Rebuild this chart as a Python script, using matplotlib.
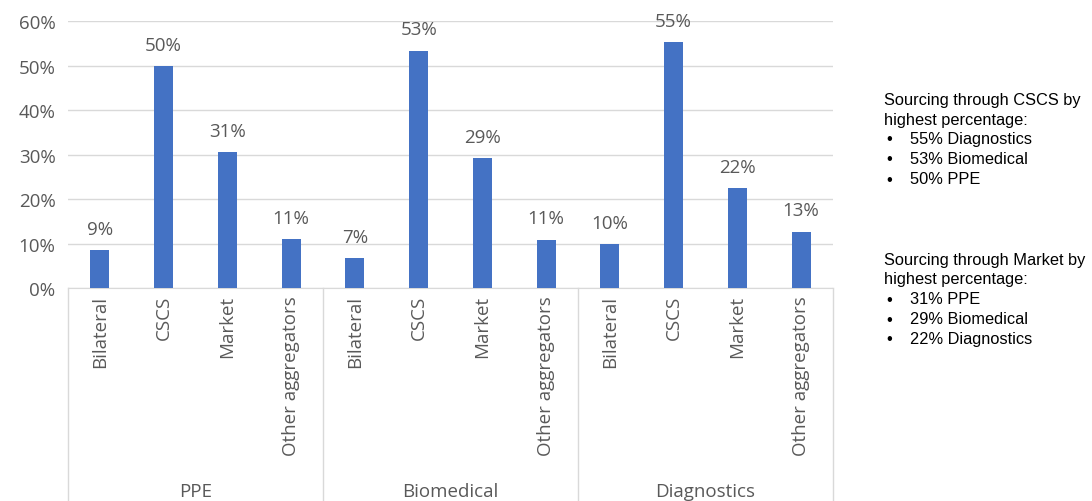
import matplotlib
matplotlib.use("Agg")
import matplotlib.pyplot as plt
import numpy as np

groups = ["PPE", "Biomedical", "Diagnostics"]
categories = ["Bilateral", "CSCS", "Market", "Other aggregators"]
values = [
    [8.5, 49.8, 30.5, 11.0],   # PPE
    [6.7, 53.3, 29.2, 10.8],   # Biomedical
    [9.8, 55.2, 22.4, 12.6],   # Diagnostics
]
labels = [
    ["9%", "50%", "31%", "11%"],
    ["7%", "53%", "29%", "11%"],
    ["10%", "55%", "22%", "13%"],
]
yticks = [0, 10, 20, 30, 40, 50, 60]
note1 = ["Sourcing through CSCS by", "highest percentage:",
         "55% Diagnostics", "53% Biomedical", "50% PPE"]
note2 = ["Sourcing through Market by", "highest percentage:",
         "31% PPE", "29% Biomedical", "22% Diagnostics"]

W, H = 1092, 502
fig = plt.figure(figsize=(W / 100, H / 100), dpi=100)
left, right, top0, bot0 = 68, 833, 22, 289
ax = fig.add_axes([left / W, 1 - bot0 / H, (right - left) / W, (bot0 - top0) / H])

font = ["Open Sans", "DejaVu Sans"]
gray = "#595959"
bar_color = "#4472C4"
fs = 13.5

x = np.arange(len(groups) * len(categories))
flat_vals = [v for g in values for v in g]
flat_labels = [l for g in labels for l in g]
flat_cats = [c for g in groups for c in categories]

bars = ax.bar(x, flat_vals, width=0.3, color=bar_color, zorder=3)
for b, lab in zip(bars, flat_labels):
    ax.annotate(lab, (b.get_x() + b.get_width() / 2, b.get_height()),
                xytext=(0, 9), textcoords="offset points",
                ha="center", va="bottom", fontsize=fs, color=gray, family=font)

ax.set_xlim(-0.5, len(x) - 0.5)
ax.set_ylim(0, 60)
ax.set_yticks(yticks)
ax.set_yticklabels([f"{t}%" for t in yticks], fontsize=fs, color=gray, family=font)
ax.tick_params(axis="y", length=0, pad=9)
ax.yaxis.grid(True, color="#d9d9d9", linewidth=1, zorder=0)
ax.set_axisbelow(True)
for s in ["left", "right", "top"]:
    ax.spines[s].set_visible(False)
ax.spines["bottom"].set_color("#d9d9d9")
ax.set_xticks([])

# category labels
trans = ax.get_xaxis_transform()
axh = bot0 - top0
for xi, c in zip(x, flat_cats):
    ax.text(xi, -7 / axh, c, rotation=90, ha="center", va="top", transform=trans,
            fontsize=fs, color=gray, family=font)

# group separators and labels
n = len(categories)
for gi in range(len(groups) + 1):
    xs = gi * n - 0.5
    ax.plot([xs, xs], [0, -(H - bot0) / axh], transform=trans, color="#d9d9d9",
            linewidth=1, clip_on=False)
for gi, g in enumerate(groups):
    ax.text(gi * n + (n - 1) / 2, -(492 - bot0) / axh, g, ha="center", va="center",
            transform=trans, fontsize=fs, color=gray, family=font)

# notes
def note(lines, ytop):
    nfs = 11.8
    step = 20
    for i, ln in enumerate(lines):
        y = 1 - (ytop + i * step) / H
        if i < 2:
            fig.text(884 / W, y, ln, fontsize=nfs, family="Liberation Sans",
                     color="black", va="center")
        else:
            fig.text(886 / W, y, "\u2022", fontsize=nfs, family="Liberation Sans",
                     color="black", va="center")
            fig.text(910 / W, y, ln, fontsize=nfs, family="Liberation Sans",
                     color="black", va="center")

note(note1, 100)
note(note2, 260)

fig.savefig("out.png", dpi=100)
